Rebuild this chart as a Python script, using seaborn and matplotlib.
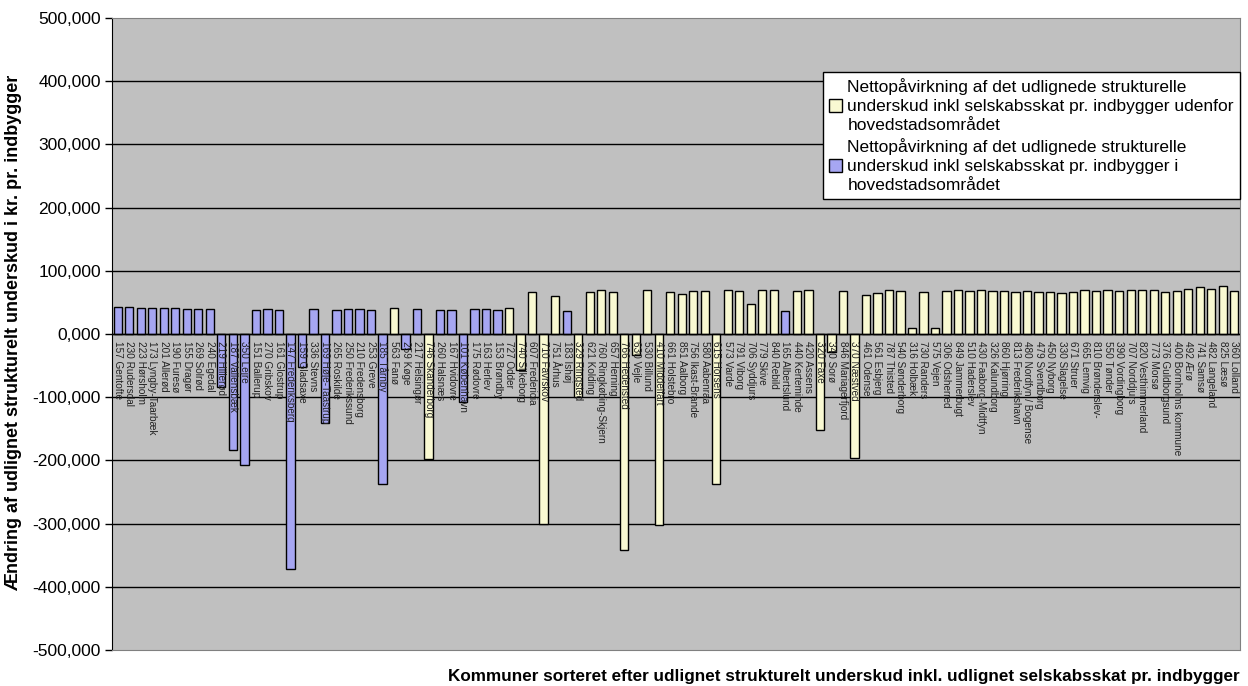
import pandas as pd
import matplotlib
matplotlib.use("Agg")
import matplotlib.pyplot as plt
import seaborn as sns

# Kommuner in chart order, with value (kr. pr. indbygger) and whether in hovedstadsområdet
kommuner = [
    "157 Gentofte", "230 Rudersdal", "223 Hørsholm", "173 Lyngby-Taarbæk", "201 Allerød",
    "190 Furesø", "155 Dragør", "269 Solrød", "240 Egedal", "219 Hillerød",
    "187 Vallensbæk", "350 Lejre", "151 Ballerup", "270 Gribskov", "161 Glostrup",
    "147 Frederiksberg", "159 Gladsaxe", "336 Stevns", "169 Høje-Taastrup", "265 Roskilde",
    "250 Frederikssund", "210 Fredensborg", "253 Greve", "185 Tårnby", "563 Fanø",
    "259 Køge", "217 Helsingør", "746 Skanderborg", "260 Halsnæs", "167 Hvidovre",
    "101 København", "175 Rødovre", "163 Herlev", "153 Brøndby", "727 Odder",
    "740 Silkeborg", "607 Fredericia", "710 Favrskov", "751 Århus", "183 Ishøj",
    "329 Ringsted", "621 Kolding", "760 Ringkøbing-Skjern", "657 Herning", "766 Hedensted",
    "630 Vejle", "530 Billund", "410 Middelfart", "661 Holstebro", "851 Aalborg",
    "756 Ikast-Brande", "580 Aabenraa", "615 Horsens", "573 Varde", "791 Viborg",
    "706 Syddjurs", "779 Skive", "840 Rebild", "165 Albertslund", "440 Kerteminde",
    "420 Assens", "320 Faxe", "340 Sorø", "846 Mariagerfjord", "370 Næstved",
    "461 Odense", "561 Esbjerg", "787 Thisted", "540 Sønderborg", "316 Holbæk",
    "730 Randers", "575 Vejen", "306 Odsherred", "849 Jammerbugt", "510 Haderslev",
    "430 Faaborg-Midtfyn", "326 Kalundborg", "860 Hjørring", "813 Frederikshavn", "480 Nordfyn / Bogense",
    "479 Svendborg", "450 Nyborg", "330 Slagelse", "671 Struer", "665 Lemvig",
    "810 Brønderslev-", "550 Tønder", "390 Vordingborg", "707 Norddjurs", "820 Vesthimmerland",
    "773 Morsø", "376 Guldborgsund", "400 Bornholms kommune", "492 Ærø", "741 Samsø",
    "482 Langeland", "825 Læsø", "360 Lolland",
]

vaerdier = [
    42000, 42000, 41500, 41000, 40500,
    40500, 40000, 39000, 39000, -84000,
    -184000, -207000, 38400, 40000, 37900,
    -372600, -52600, 39500, -141000, 38400,
    39500, 39500, 38400, -238000, 40500,
    -24000, 39500, -198000, 38400, 38400,
    -108000, 39000, 39000, 37900, 41600,
    -56800, 65800, -300000, 60500, 36800,
    -100000, 65800, 70000, 66300, -341600,
    -33000, 69000, -301600, 66800, 62600,
    67400, 67900, -236800, 70000, 67400,
    47900, 69000, 70000, 36800, 68400,
    69500, -151600, -28400, 68400, -196300,
    62100, 64700, 69500, 67400, 8900,
    65800, 9500, 67400, 69000, 67400,
    70000, 67900, 68400, 66300, 68400,
    66300, 66800, 65300, 66800, 70000,
    68400, 70000, 68400, 69000, 70000,
    70000, 66800, 67900, 71600, 73700,
    71600, 75800, 67900,
]

hovedstad = {
    "157 Gentofte", "230 Rudersdal", "223 Hørsholm", "173 Lyngby-Taarbæk", "201 Allerød",
    "190 Furesø", "155 Dragør", "269 Solrød", "240 Egedal", "219 Hillerød",
    "187 Vallensbæk", "350 Lejre", "151 Ballerup", "270 Gribskov", "161 Glostrup",
    "147 Frederiksberg", "159 Gladsaxe", "336 Stevns", "169 Høje-Taastrup", "265 Roskilde",
    "250 Frederikssund", "210 Fredensborg", "253 Greve", "185 Tårnby",
    "259 Køge", "217 Helsingør", "260 Halsnæs", "167 Hvidovre",
    "101 København", "175 Rødovre", "163 Herlev", "153 Brøndby", "183 Ishøj",
    "165 Albertslund",
}

label_udenfor = ("Nettopåvirkning af det udlignede strukturelle\n"
                 "underskud inkl selskabsskat pr. indbygger udenfor\n"
                 "hovedstadsområdet")
label_hoved = ("Nettopåvirkning af det udlignede strukturelle\n"
               "underskud inkl selskabsskat pr. indbygger i\n"
               "hovedstadsområdet")

yticks = [500000, 400000, 300000, 200000, 100000, 0,
          -100000, -200000, -300000, -400000, -500000]
ytick_labels = ["500,000", "400,000", "300,000", "200,000", "100,000", "0,000",
                "-100,000", "-200,000", "-300,000", "-400,000", "-500,000"]

df = pd.DataFrame({"kommune": kommuner, "vaerdi": vaerdier})
df["gruppe"] = [label_hoved if k in hovedstad else label_udenfor for k in kommuner]

plt.rcParams["font.family"] = ["Liberation Sans", "DejaVu Sans"]

fig = plt.figure(figsize=(12.48, 6.86), dpi=100)
ax = fig.add_axes([112 / 1248, 1 - 650 / 686, 1128 / 1248, 632 / 686])
ax.set_facecolor("#C0C0C0")

sns.barplot(
    data=df, x="kommune", y="vaerdi", hue="gruppe",
    order=kommuner, hue_order=[label_udenfor, label_hoved],
    palette={label_udenfor: "#FFFFCC", label_hoved: "#9999FF"},
    dodge=False, width=0.72, edgecolor="black", linewidth=1,
    ax=ax, zorder=3,
)

ax.set_ylim(-500000, 500000)
ax.set_xlim(-0.5, len(kommuner) - 0.5)
ax.set_yticks(yticks)
ax.set_yticklabels(ytick_labels, fontsize=12.5)
ax.tick_params(axis="y", length=5, width=1, color="black", pad=3)
ax.set_xticks([])
ax.set_xlabel("")
ax.set_ylabel("")
for y in yticks[1:-1]:
    ax.axhline(y, color="black", linewidth=1, zorder=1)
ax.axhline(0, color="black", linewidth=1, zorder=4)

# kommune names hang down from the zero line, on top of the bars
for i, navn in enumerate(kommuner):
    ax.text(i, -11000, navn, rotation=-90, ha="center", va="top",
            fontsize=7.2, color="#222222", zorder=5)

for side in ["top", "right", "bottom"]:
    ax.spines[side].set_color("#808080")
ax.spines["left"].set_color("black")

leg = ax.legend(
    loc="upper left", bbox_to_anchor=(823 / 1248, 1 - 72 / 686),
    bbox_transform=fig.transFigure, borderaxespad=0, fontsize=12.5,
    frameon=True, fancybox=False, handlelength=0.75, handleheight=0.75,
    handletextpad=0.3, labelspacing=0.25, borderpad=0.35,
)
for t in leg.get_texts():
    t.set_linespacing(1.35)
leg.get_frame().set_edgecolor("black")
leg.get_frame().set_facecolor("white")
leg.get_frame().set_alpha(1)
leg.set_zorder(10)

fig.text(14 / 1248, 1 - 333 / 686,
         "Ændring af udlignet strukturelt underskud i kr. pr. indbygger",
         rotation=90, ha="center", va="center", fontsize=13, fontweight="bold")
fig.text(1240 / 1248, 1 - 677 / 686,
         "Kommuner sorteret efter udlignet strukturelt underskud inkl. udlignet selskabsskat pr. indbygger",
         ha="right", va="center", fontsize=12.3, fontweight="bold")

fig.savefig("out.png", dpi=100, facecolor="white")
